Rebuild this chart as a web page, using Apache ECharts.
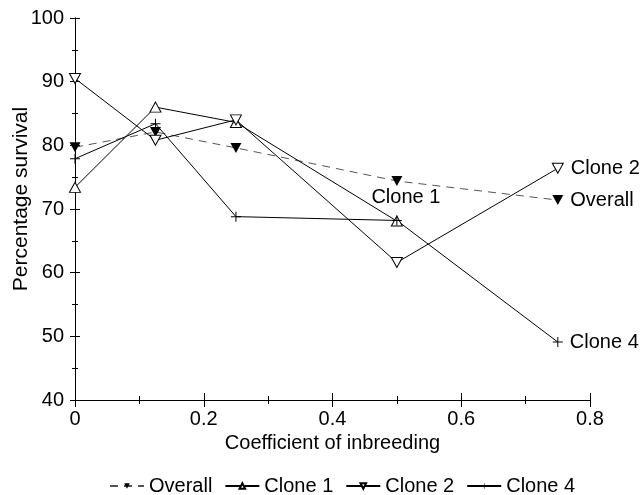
<!DOCTYPE html>
<html>
<head>
<meta charset="utf-8">
<script src="https://cdn.jsdelivr.net/npm/echarts@6/dist/echarts.min.js"></script>
<style>html,body{margin:0;padding:0;background:#fff}#c{width:640px;height:495px}</style>
</head>
<body>
<div id="c"></div>
<script>
const xValues = [0, 0.125, 0.25, 0.5, 0.75];
const overall = [79.7, 82.1, 79.6, 74.4, 71.4];
const clone1 = [73.4, 86.0, 83.6, 68.1];
const clone2 = [90.5, 80.8, 84.0, 61.6, 76.4];
const clone4 = [77.9, 83.4, 68.8, 68.2, 49.1];
const seriesNames = ['Overall', 'Clone 1', 'Clone 2', 'Clone 4'];
const yTicks = [40, 50, 60, 70, 80, 90, 100];
const xTicks = [0, 0.2, 0.4, 0.6, 0.8];

const FONT = "'Liberation Sans', Arial, sans-serif";
const plusPath = 'path://M4.5,0h1v10h-1z M0,4.5h10v1h-10z';

function build(vals, labelOpt) {
  return vals.map((v, i) => {
    const item = { value: [xValues[i], v] };
    if (i === vals.length - 1 && labelOpt) item.label = labelOpt;
    return item;
  });
}
function endLab(text, extra) {
  return Object.assign({ show: true, position: 'right', distance: 7, formatter: text,
    color: '#000', fontSize: 20, fontFamily: FONT }, extra || {});
}

const baseX = {
  type: 'value', min: xTicks[0], max: xTicks[xTicks.length - 1], interval: 0.2,
  axisLine: { show: true, lineStyle: { color: '#000', width: 1 } },
  splitLine: { show: false },
  minorTick: { show: true, splitNumber: 2, length: 4, lineStyle: { color: '#000' } },
  axisTick: { show: true, length: 7, lineStyle: { color: '#000' } }
};
const baseY = {
  type: 'value', min: yTicks[0], max: yTicks[yTicks.length - 1], interval: 10,
  axisLine: { show: true, lineStyle: { color: '#000', width: 1 } },
  splitLine: { show: false },
  minorTick: { show: true, splitNumber: 2, length: 3, lineStyle: { color: '#000' } },
  axisTick: { show: true, length: 5, lineStyle: { color: '#000' } }
};

const chart = echarts.init(document.getElementById('c'), null, { renderer: 'canvas' });
chart.setOption({
  animation: false,
  backgroundColor: '#fff',
  textStyle: { fontFamily: FONT, color: '#000' },
  grid: { left: 75, right: 50, top: 18, bottom: 95, containLabel: false },
  xAxis: [
    Object.assign({}, baseX, {
      position: 'bottom',
      name: 'Coefficient of inbreeding', nameLocation: 'middle', nameGap: 33,
      nameTextStyle: { fontSize: 20, color: '#000', fontFamily: FONT },
      axisTick: Object.assign({}, baseX.axisTick, { inside: false }),
      axisLabel: { show: true, margin: 9, fontSize: 20, color: '#000', fontFamily: FONT,
        formatter: v => String(v) }
    }),
    Object.assign({}, baseX, {
      position: 'bottom', offset: 0,
      axisTick: Object.assign({}, baseX.axisTick, { inside: true }),
      axisLabel: { show: false }
    })
  ],
  yAxis: [
    Object.assign({}, baseY, {
      position: 'left',
      axisTick: Object.assign({}, baseY.axisTick, { inside: false }),
      axisLabel: { show: true, margin: 11, fontSize: 20, color: '#000', fontFamily: FONT }
    }),
    Object.assign({}, baseY, {
      position: 'left', offset: 0,
      axisTick: Object.assign({}, baseY.axisTick, { inside: true }),
      axisLabel: { show: false }
    })
  ],
  graphic: [{
    type: 'text', x: 21, y: 199, rotation: Math.PI / 2,
    style: { text: 'Percentage survival', fontSize: 21, fontFamily: FONT, fill: '#000',
      textAlign: 'center', textVerticalAlign: 'middle' }
  }],
  legend: {
    left: 104, top: 471, itemWidth: 34, itemHeight: 7, itemGap: 12,
    textStyle: { fontSize: 20, color: '#000', fontFamily: FONT },
    data: seriesNames
  },
  series: [
    {
      name: seriesNames[0], type: 'line', data: build(overall, endLab('Overall')),
      symbol: 'triangle', symbolRotate: 180, symbolSize: [11, 10],
      itemStyle: { color: '#000' },
      lineStyle: { color: '#555', width: 1, type: [8, 6] }, z: 2
    },
    {
      name: seriesNames[1], type: 'line', data: build(clone1, endLab('Clone 1', { position: 'top', distance: 8, offset: [9, 0] })),
      symbol: 'triangle', symbolSize: [11, 10],
      itemStyle: { color: '#fff', borderColor: '#000', borderWidth: 1 },
      lineStyle: { color: '#000', width: 1 }, z: 3
    },
    {
      name: seriesNames[2], type: 'line', data: build(clone2, endLab('Clone 2')),
      symbol: 'triangle', symbolRotate: 180, symbolSize: [11, 10],
      itemStyle: { color: '#fff', borderColor: '#000', borderWidth: 1 },
      lineStyle: { color: '#000', width: 1 }, z: 3
    },
    {
      name: seriesNames[3], type: 'line', data: build(clone4, endLab('Clone 4')),
      symbol: plusPath, symbolSize: 10,
      itemStyle: { color: '#000' },
      lineStyle: { color: '#000', width: 1 }, z: 3
    }
  ]
});
</script>
</body>
</html>
